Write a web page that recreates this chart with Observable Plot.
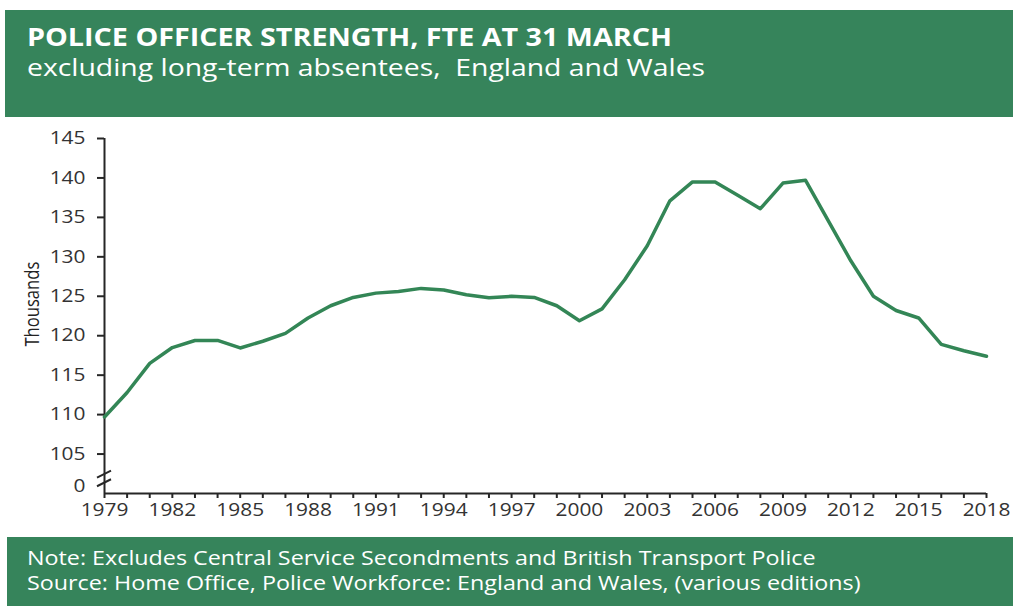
<!DOCTYPE html>
<html>
<head>
<meta charset="utf-8">
<script src="https://cdn.jsdelivr.net/npm/d3@7"></script>
<script src="https://cdn.jsdelivr.net/npm/@observablehq/plot@0.6"></script>
<style>
  html, body { margin: 0; padding: 0; background: #fff; width: 1013px; height: 608px; overflow: hidden; font-family: "Open Sans", sans-serif; }
  #header { position: absolute; left: 5px; top: 10px; width: 1008px; height: 107px; background: #36845b; color: #fff; }
  #title { position: absolute; left: 22px; top: 9px; font-size: 25px; font-weight: 700; white-space: nowrap; transform: scaleX(1.148); transform-origin: left center; }
  #subtitle { position: absolute; left: 22px; top: 40px; font-size: 24.5px; font-weight: 400; white-space: nowrap; transform: scaleX(1.157); transform-origin: left center; }
  #chart { position: absolute; left: 0; top: 117px; }
  #footer { position: absolute; left: 7px; top: 537px; width: 1006px; height: 69px; background: #36845b; color: #fff; }
  #footer div { position: absolute; left: 20px; font-size: 20px; white-space: nowrap; transform: scaleX(1.165); transform-origin: left center; }
</style>
</head>
<body>
<div id="header">
  <div id="title">POLICE OFFICER STRENGTH, FTE AT 31 MARCH</div>
  <div id="subtitle">excluding long-term absentees,&nbsp; England and Wales</div>
</div>
<div id="chart"></div>
<div id="footer">
  <div id="note" style="top:7px">Note: Excludes Central Service Secondments and British Transport Police</div>
  <div id="source" style="top:32px">Source: Home Office, Police Workforce: England and Wales, (various editions)</div>
</div>
<script>
// Data (thousands, FTE at 31 March)
const years = [1979,1980,1981,1982,1983,1984,1985,1986,1987,1988,1989,1990,1991,1992,1993,1994,1995,1996,1997,1998,1999,2000,2001,2002,2003,2004,2005,2006,2007,2008,2009,2010,2011,2012,2013,2014,2015,2016,2017,2018];
const officers = [109.7,112.8,116.5,118.5,119.4,119.4,118.45,119.3,120.3,122.25,123.8,124.85,125.4,125.6,126.0,125.8,125.2,124.8,125.0,124.85,123.8,121.9,123.4,127.1,131.4,137.1,139.5,139.5,137.8,136.1,139.35,139.7,134.6,129.5,125.0,123.2,122.25,118.9,118.1,117.4];
const yTicks = [105,110,115,120,125,130,135,140,145];
const xLabelYears = [1979,1982,1985,1988,1991,1994,1997,2000,2003,2006,2009,2012,2015,2018];
const yAxisLabel = "Thousands";
const brokenZeroLabel = "0";

const data = years.map((y, i) => ({year: y, value: officers[i]}));
const green = "#338656";
const ink = "#262626";

const chart = Plot.plot({
  width: 1013,
  height: 420,
  marginTop: 21,
  marginBottom: 44,
  marginLeft: 104,
  marginRight: 27,
  style: {fontFamily: "'Open Sans', sans-serif", fontSize: "18px", color: ink, background: "transparent"},
  x: {domain: [1979, 2018]},
  y: {domain: [100, 145]},
  marks: [
    Plot.axisY({ticks: yTicks, tickSize: 7, tickPadding: 12, label: null, stroke: ink, strokeWidth: 2, fill: "#333", fontSize: 18}),
    Plot.axisX({ticks: years, tickSize: 5, tickPadding: 5, label: null, stroke: ink, strokeWidth: 2, fill: "#333", fontSize: 18,
      tickFormat: d => xLabelYears.includes(d) ? String(d) : ""}),
    Plot.ruleX([1979], {y1: 100, y2: 145, stroke: ink, strokeWidth: 2}),
    Plot.ruleY([100], {stroke: ink, strokeWidth: 2}),
    Plot.text([brokenZeroLabel], {x: 1979, y: 100.9, text: d => d, textAnchor: "end", dx: -19, fontSize: 18, fill: "#333", className: "zerolabel"}),
    Plot.line(data, {x: "year", y: "value", stroke: green, strokeWidth: 3.5, strokeLinejoin: "round"}),
    Plot.text([yAxisLabel], {frameAnchor: "left", y: 124, text: d => d, rotate: -90, textAnchor: "middle", dx: -72, fontSize: 20.5, fill: "#222", className: "ylabel"})
  ]
});
document.getElementById("chart").appendChild(chart);

// Horizontally stretch the tick labels to match the reference's wide lettering
d3.select(chart).selectAll("g[aria-label$='tick label'] text, .zerolabel text").each(function() {
  const len = this.getComputedTextLength();
  if (len > 0) {
    this.setAttribute("textLength", (len * 1.16).toFixed(2));
    this.setAttribute("lengthAdjust", "spacingAndGlyphs");
  }
});
// The vertical axis title is thicker but shorter in the reference
d3.select(chart).selectAll(".ylabel text").each(function() {
  const len = this.getComputedTextLength();
  if (len > 0) {
    this.setAttribute("textLength", (len * 0.81).toFixed(2));
    this.setAttribute("lengthAdjust", "spacingAndGlyphs");
  }
});

// axis break slashes, positioned from scales
const xs = chart.scale("x"), ys = chart.scale("y");
const x0 = xs.apply(1979);
const svg = d3.select(chart);
[102.4, 101.3].forEach(v => {
  const yc = ys.apply(v);
  svg.append("line")
    .attr("x1", x0 - 7).attr("y1", yc + 3.5)
    .attr("x2", x0 + 7).attr("y2", yc - 3.5)
    .attr("stroke", ink).attr("stroke-width", 2);
});
</script>
</body>
</html>
